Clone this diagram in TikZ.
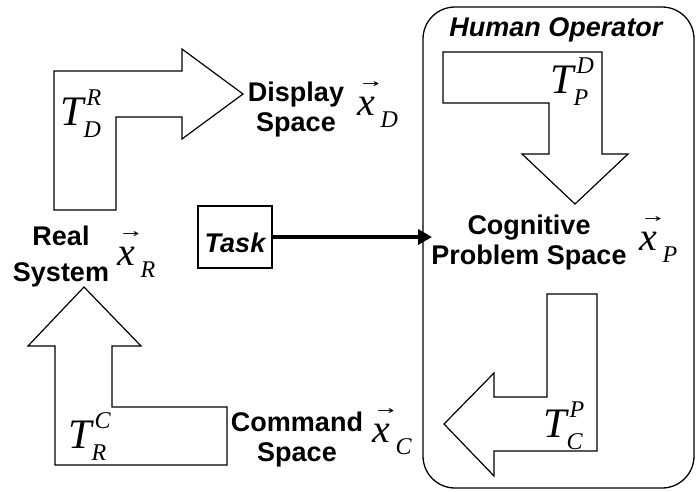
\documentclass[tikz,border=0pt]{standalone}
\usepackage{graphicx}
\usepackage{fontspec}
\setmainfont{Liberation Sans}
\newfontfamily\tms{Liberation Serif}
\newfontfamily\arrfont{DejaVu Sans}
\usetikzlibrary{arrows.meta}

% transformation symbol T with superscript and subscript
\newcommand{\Tmap}[2]{%
  {\tms\itshape\fontsize{42}{42}\selectfont T}%
  \rlap{\hspace{3pt}\raisebox{20pt}{\tms\itshape\fontsize{24}{24}\selectfont #1}}%
  \raisebox{-12pt}{\tms\itshape\fontsize{24}{24}\selectfont #2}}

% state vector x with arrow and subscript
\newcommand{\vecx}[1]{%
  \ooalign{\hfil\hspace{5pt}\smash{\raisebox{28pt}{\arrfont\fontsize{11}{11}\selectfont\scalebox{1.9}[1]{→}}}\hfil\cr
           {\tms\itshape\fontsize{40}{40}\selectfont x}\cr}%
  \hspace{1pt}\raisebox{-12pt}{\tms\itshape\fontsize{24}{24}\selectfont #1}}

\tikzset{
  fatarrow/.style={draw, line width=1.2pt, fill=white, line join=miter},
  lbl/.style={font=\bfseries\fontsize{27}{30}\selectfont, align=center, inner sep=0pt},
  sym/.style={inner sep=0pt, anchor=base west},
}

\begin{document}
\begin{tikzpicture}[x=1pt, y=-1pt]
\useasboundingbox (0,0) rectangle (696,491);

% human operator frame
\node[draw, line width=1.3pt, rounded corners=32pt, minimum width=271pt,
      minimum height=481pt, inner sep=0pt] (human) at (558.5,247.5) {};
\node[font=\bfseries\itshape\fontsize{27}{27}\selectfont, inner sep=0pt]
      (humanlbl) at (556,30) {Human Operator};

% transformation arrows
\draw[fatarrow] (54,71) -- (182,71) -- (182,49) -- (243,94) -- (182,139)
  -- (182,117) -- (116,117) -- (116,210) -- (54,210) -- cycle;
\draw[fatarrow] (443,52) -- (602,52) -- (602,154) -- (628,154) -- (575,204)
  -- (522,154) -- (549,154) -- (549,103) -- (443,103) -- cycle;
\draw[fatarrow] (547,294) -- (597,294) -- (597,451) -- (494,451) -- (494,476)
  -- (444,424) -- (494,373) -- (494,397) -- (547,397) -- cycle;
\draw[fatarrow] (55,465) -- (55,346) -- (28,346) -- (84,287) -- (141,346)
  -- (112,346) -- (112,407) -- (227,407) -- (227,465) -- cycle;

% transformation labels
\node[sym] (tdr) at (60,125) {\Tmap{R}{D}};
\node[sym] (tpd) at (550,93) {\Tmap{D}{P}};
\node[sym] (trc) at (68,448) {\Tmap{C}{R}};
\node[sym] (tcp) at (543,437) {\Tmap{P}{C}};

% spaces
\node[lbl] (display) at (296,110) {Display\\Space};
\node[lbl, font=\bfseries\fontsize{27}{36}\selectfont] (real) at (61,257) {Real\\System};
\node[lbl] (cognitive) at (529,243) {Cognitive\\Problem Space};
\node[lbl] (command) at (297,440) {Command\\Space};

\node[sym] (xd) at (357,115) {\vecx{D}};
\node[sym] (xr) at (117,265) {\vecx{R}};
\node[sym] (xp) at (639,250) {\vecx{P}};
\node[sym] (xc) at (372,442) {\vecx{C}};

% task input
\node[draw, line width=1.2pt, minimum width=74pt, minimum height=62pt,
      inner sep=0pt, text height=30pt, text depth=0pt,
      font=\bfseries\itshape\fontsize{27}{27}\selectfont] (task) at (235,237) {Task};
\coordinate (taskin) at (432,237);
\draw[line width=4.5pt, -{Triangle[length=14pt,width=15pt]}] (task.east) -- (taskin);
\end{tikzpicture}
\end{document}
